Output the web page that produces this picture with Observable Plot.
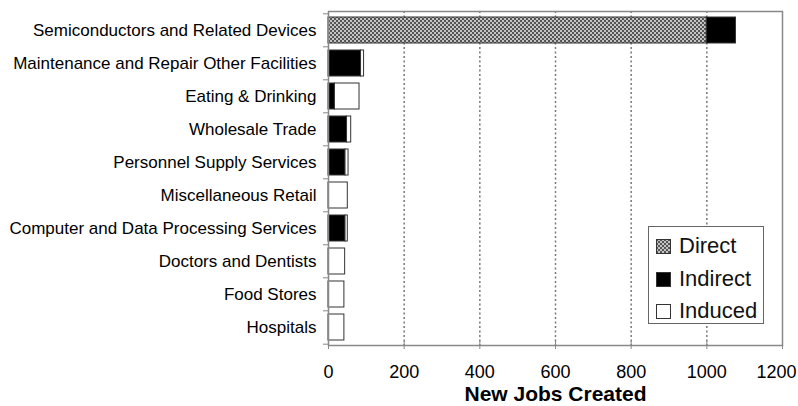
<!DOCTYPE html>
<html>
<head>
<meta charset="utf-8">
<script src="https://cdn.jsdelivr.net/npm/d3@7"></script>
<script src="https://cdn.jsdelivr.net/npm/@observablehq/plot@0.6"></script>
<style>
  body { margin: 0; background: white; font-family: "Liberation Sans", Arial, sans-serif; }
  #wrap { position: relative; width: 798px; height: 406px; }
  #legend { position: absolute; left: 648px; top: 226px; width: 116px; height: 98px;
    border: 1.5px solid #666; background: white; box-sizing: border-box; }
  .row { position: absolute; left: 7px; height: 26px; display: flex; align-items: center; font-size: 22px; color: #111; }
  .row svg { margin-right: 8px; }
</style>
</head>
<body>
<div id="wrap"></div>
<script>
const categories = [
  "Semiconductors and Related Devices",
  "Maintenance and Repair Other Facilities",
  "Eating & Drinking",
  "Wholesale Trade",
  "Personnel Supply Services",
  "Miscellaneous Retail",
  "Computer and Data Processing Services",
  "Doctors and Dentists",
  "Food Stores",
  "Hospitals"
];
const seriesNames = ["Direct", "Indirect", "Induced"];
const direct   = [1000, 0, 0, 0, 0, 0, 0, 0, 0, 0];
const indirect = [77, 86, 17, 49, 45, 0, 45, 0, 0, 0];
const induced  = [0, 8, 65, 11, 8, 51, 6, 44, 42, 42];
const xTicks = [0, 200, 400, 600, 800, 1000, 1200];
const gridTicks = [200, 400, 600, 800, 1000];
const xTitle = "New Jobs Created";

const seriesValues = [direct, indirect, induced];
const rows = [];
categories.forEach((c, i) => {
  seriesNames.forEach((s, k) => {
    const v = seriesValues[k][i];
    if (v > 0) rows.push({category: c, type: s, value: v});
  });
});

const lastTick = xTicks[xTicks.length - 1];
const innerTicks = xTicks.slice(0, -1);

const svg = Plot.plot({
  width: 798,
  height: 406,
  marginLeft: 328,
  marginRight: 16,
  marginTop: 11,
  marginBottom: 61,
  style: { fontFamily: "Liberation Sans, Arial, sans-serif", color: "#000", background: "white" },
  x: { domain: [0, 1200], label: null },
  y: { domain: categories, paddingInner: 0.22, paddingOuter: 0.11, label: null },
  color: { domain: seriesNames, range: ["url(#checker)", "#000", "#fff"], type: "ordinal" },
  marks: [
    Plot.ruleX(gridTicks, { stroke: "#777", strokeWidth: 1.5, strokeDasharray: "2,2.5" }),
    Plot.barX(rows, Plot.stackX({ y: "category", x: "value", fill: "type", stroke: "#333", strokeWidth: 1 })),
    Plot.frame({ stroke: "#888", strokeWidth: 1.5 }),
    Plot.axisY({ tickSize: 0, tickPadding: 12, fontSize: 17, label: null }),
    Plot.axisY({ tickSize: 5, text: null, dy: -16.7, stroke: "#888", label: null }),
    Plot.axisY([categories[categories.length - 1]], { tickSize: 5, text: null, dy: 16.7, stroke: "#888", label: null }),
    Plot.axisX({ ticks: xTicks, tickSize: 4, text: null, stroke: "#888", label: null }),
    Plot.axisX({ ticks: xTicks, tickSize: 4, text: null, dy: -4, stroke: "#888", label: null }),
    Plot.axisX({ ticks: innerTicks, tickFormat: "d", tickSize: 0, tickPadding: 20, fontSize: 18, label: null }),
    Plot.axisX({ ticks: [lastTick], tickFormat: "d", tickSize: 0, tickPadding: 20, fontSize: 18, dx: -6, label: null }),
    Plot.text([xTitle], { frameAnchor: "bottom", dy: 49, fontSize: 21, fontWeight: "bold", lineAnchor: "middle" })
  ]
});

d3.select(svg).insert("defs", ":first-child").html(
  '<pattern id="checker" width="4" height="4" patternUnits="userSpaceOnUse">' +
  '<rect width="4" height="4" fill="#c4c4c4"/>' +
  '<rect width="2" height="2" fill="#555"/>' +
  '<rect x="2" y="2" width="2" height="2" fill="#555"/></pattern>'
);

const wrap = document.getElementById("wrap");
wrap.appendChild(svg);

const legend = document.createElement("div");
legend.id = "legend";
const swatchFill = ["url(#checker)", "#000", "#fff"];
const rowTops = [6, 39, 71];
seriesNames.forEach((s, k) => {
  const r = document.createElement("div");
  r.className = "row";
  r.style.top = rowTops[k] + "px";
  r.innerHTML = `<svg width="15" height="15"><rect x="0.5" y="0.5" width="14" height="14" fill="${swatchFill[k]}" stroke="#333" stroke-width="1"/></svg><span>${s}</span>`;
  legend.appendChild(r);
});
wrap.appendChild(legend);
</script>
</body>
</html>
